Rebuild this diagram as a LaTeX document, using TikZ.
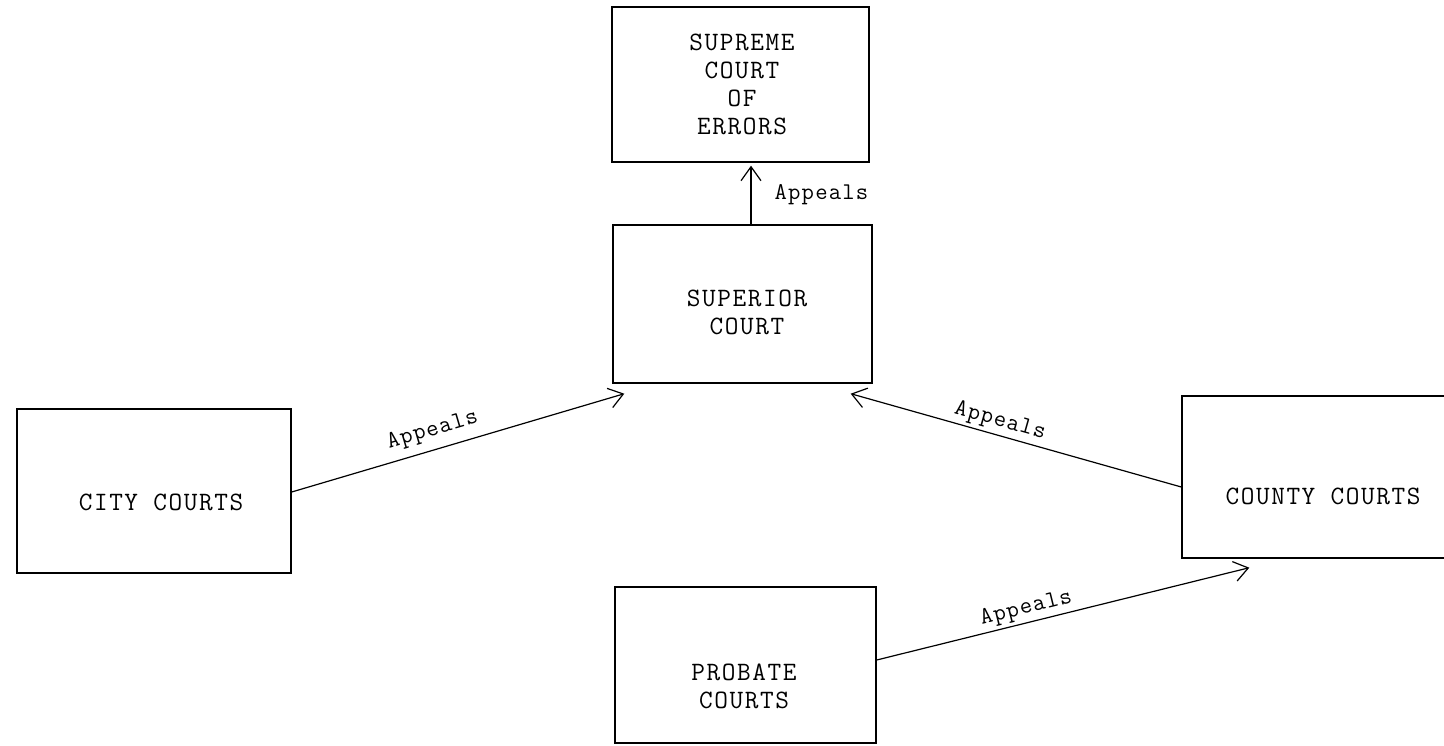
\documentclass[tikz,border=0pt]{standalone}
\usepackage{fontspec}
\setmonofont{Latin Modern Mono}
\newfontfamily\boxfont{Latin Modern Mono}[LetterSpace=6]
\newfontfamily\lblfont{Latin Modern Mono}[LetterSpace=5]
\usetikzlibrary{arrows.meta}
\tikzset{
  court/.style={draw, line width=1.4pt, inner sep=0pt},
  courttext/.style={inner sep=0pt, align=center,
    font=\boxfont\fontsize{26.5}{28}\selectfont},
  appeal/.style={line width=1.2pt, -{Straight Barb[length=14pt,width=20pt,line width=1.2pt]}},
  lbl/.style={font=\lblfont\fontsize{24}{26}\selectfont, inner sep=3pt}
}
\begin{document}
\begin{tikzpicture}[x=1pt,y=-1pt]
\useasboundingbox (0,0) rectangle (1444,745);
\fill[white] (0,0) rectangle (1444,745);
\clip (0,0) rectangle (1444,745);
% boxes
\node[court, minimum width=257pt, minimum height=155pt] (supreme) at (740.5,84.5) {};
\node[court, minimum width=259pt, minimum height=158pt] (superior) at (742.5,304) {};
\node[court, minimum width=274pt, minimum height=164pt] (city) at (154,491) {};
\node[court, minimum width=280pt, minimum height=162pt] (county) at (1322,477) {};
\node[court, minimum width=261pt, minimum height=156pt] (probate) at (745.5,665) {};
% box texts
\node[courttext] (supremeT) at (742,84) {SUPREME\\COURT\\OF\\ERRORS};
\node[courttext] (superiorT) at (747,312) {SUPERIOR\\COURT};
\node[courttext] (cityT) at (161,502) {CITY COURTS};
\node[courttext] (countyT) at (1323,496) {COUNTY COURTS};
\node[courttext] (probateT) at (744,686) {PROBATE\\COURTS};
% connectors
\draw[appeal] ([xshift=8.5pt]superior.north) -- ([xshift=10.5pt,yshift=-3pt]supreme.south)
  node[lbl, midway, right, xshift=20pt] {Appeals};
\draw[appeal] ([yshift=-1pt]city.east) -- ([shift={(12pt,-10pt)}]superior.south west)
  node[lbl, pos=0.44, above=5pt, sloped] {Appeals};
\draw[appeal] ([yshift=-10pt]county.west) -- ([shift={(-22pt,-10pt)}]superior.south east)
  node[lbl, pos=0.56, above, sloped] {Appeals};
\draw[appeal] ([yshift=5pt]probate.east) -- ([shift={(68pt,-9pt)}]county.south west)
  node[lbl, pos=0.41, above, sloped] {Appeals};
\end{tikzpicture}
\end{document}
